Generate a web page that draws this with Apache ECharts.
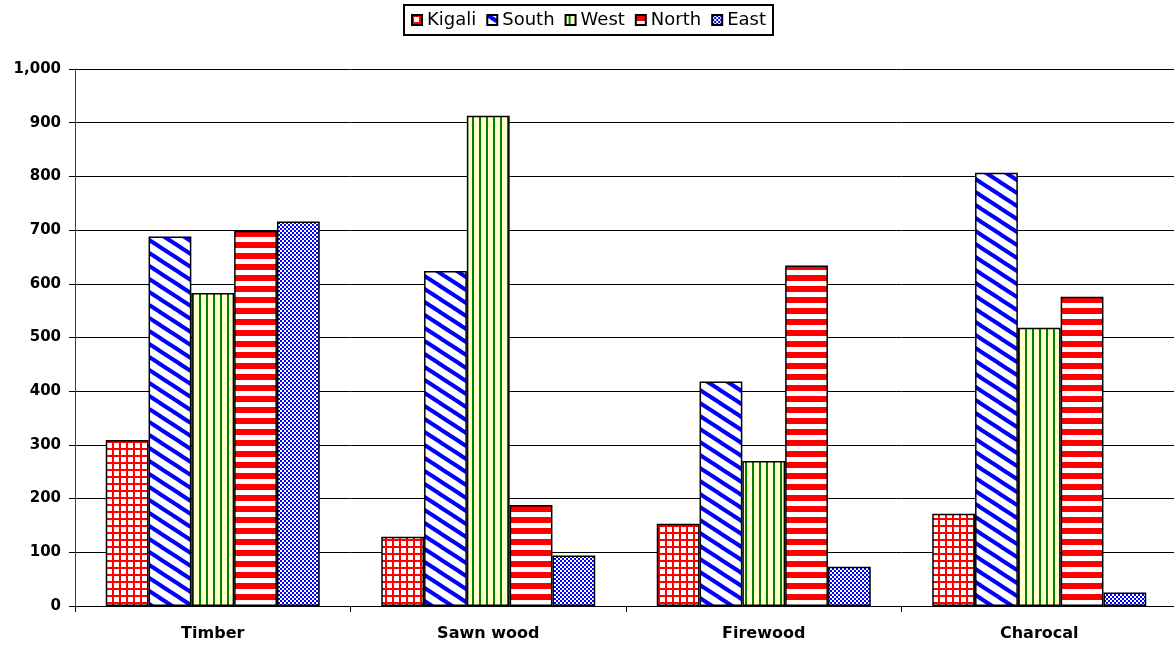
<!DOCTYPE html>
<html>
<head>
<meta charset="utf-8">
<script src="https://cdn.jsdelivr.net/npm/echarts@6/dist/echarts.min.js"></script>
<style>
  html, body { margin: 0; padding: 0; background: #fff; overflow: hidden; }
  #chart { width: 1180px; height: 648px; }
</style>
</head>
<body>
<div id="chart"></div>
<script>
// data
var categories = ['Timber', 'Sawn wood', 'Firewood', 'Charocal'];
var kigali = [309, 129, 153, 172];
var south  = [688, 624, 418, 807];
var west   = [583, 913, 270, 518];
var north  = [699, 188, 634, 576];
var east   = [716, 94, 73, 25];

// hatch fills like the old office chart
function tile(w, h, draw) {
    var c = document.createElement('canvas');
    c.width = w; c.height = h;
    var ctx = c.getContext('2d');
    draw(ctx, w, h);
    return { image: c, repeat: 'repeat' };
}
var gridFill = tile(7, 7, function (ctx, w, h) {
    ctx.fillStyle = '#fff'; ctx.fillRect(0, 0, w, h);
    ctx.fillStyle = '#ff0000';
    ctx.fillRect(0, 0, 2, h);
    ctx.fillRect(0, 0, w, 2);
});
var diagFill = tile(20, 13, function (ctx, w, h) {
    ctx.fillStyle = '#fff'; ctx.fillRect(0, 0, w, h);
    ctx.strokeStyle = '#0000ff';
    ctx.lineWidth = 4;
    for (var k = -2; k <= 2; k++) {
        ctx.beginPath();
        ctx.moveTo(k * w - w, -h);
        ctx.lineTo(k * w + 2 * w, 2 * h);
        ctx.stroke();
    }
});
var vertFill = tile(7, 7, function (ctx, w, h) {
    ctx.fillStyle = '#ffffcc'; ctx.fillRect(0, 0, w, h);
    ctx.fillStyle = '#008000';
    ctx.fillRect(3, 0, 2, h);
});
var horizFill = tile(11, 11, function (ctx, w, h) {
    ctx.fillStyle = '#fff'; ctx.fillRect(0, 0, w, h);
    ctx.fillStyle = '#ff0000';
    ctx.fillRect(0, 0, w, 6);
});
var checkFill = tile(4, 4, function (ctx, w, h) {
    ctx.fillStyle = '#fff'; ctx.fillRect(0, 0, w, h);
    ctx.fillStyle = '#0000ff';
    ctx.fillRect(0, 0, 2, 2);
    ctx.fillRect(2, 2, 2, 2);
});

function bar(name, data, fill) {
    return {
        name: name,
        type: 'bar',
        data: data,
        barWidth: 42.8,
        barGap: '0%',
        itemStyle: { color: fill, borderColor: '#000', borderWidth: 1.5 }
    };
}

var option = {
    animation: false,
    textStyle: { fontFamily: 'DejaVu Sans' },
    legend: {
        top: 5,
        left: 404,
        itemWidth: 10,
        itemHeight: 10,
        itemGap: 10,
        padding: [6, 7],
        borderColor: '#000',
        borderWidth: 2,
        icon: 'rect',
        textStyle: { fontSize: 18, color: '#000' },
        data: ['Kigali', 'South', 'West', 'North', 'East']
    },
    grid: { left: 75, top: 69, width: 1102, bottom: 42 },
    xAxis: {
        type: 'category',
        data: categories,
        axisLine: { lineStyle: { color: '#000', width: 1 } },
        axisTick: { show: true, length: 6, lineStyle: { color: '#000' } },
        axisLabel: { margin: 20, fontSize: 16, fontWeight: 'bold', color: '#000' }
    },
    yAxis: {
        type: 'value',
        min: 0,
        max: 1000,
        interval: 100,
        axisLine: { show: true, lineStyle: { color: '#404040', width: 1 } },
        axisTick: { show: true, length: 6, lineStyle: { color: '#000' } },
        axisLabel: {
            margin: 14, fontSize: 15, fontWeight: 'bold', color: '#000',
            formatter: function (v) { return v.toLocaleString('en-US'); }
        },
        splitLine: { lineStyle: { color: '#000', width: 1 } }
    },
    series: [
        bar('Kigali', kigali, gridFill),
        bar('South', south, diagFill),
        bar('West', west, vertFill),
        bar('North', north, horizFill),
        bar('East', east, checkFill)
    ]
};

var myChart = echarts.init(document.getElementById('chart'));
myChart.setOption(option);
</script>
</body>
</html>
